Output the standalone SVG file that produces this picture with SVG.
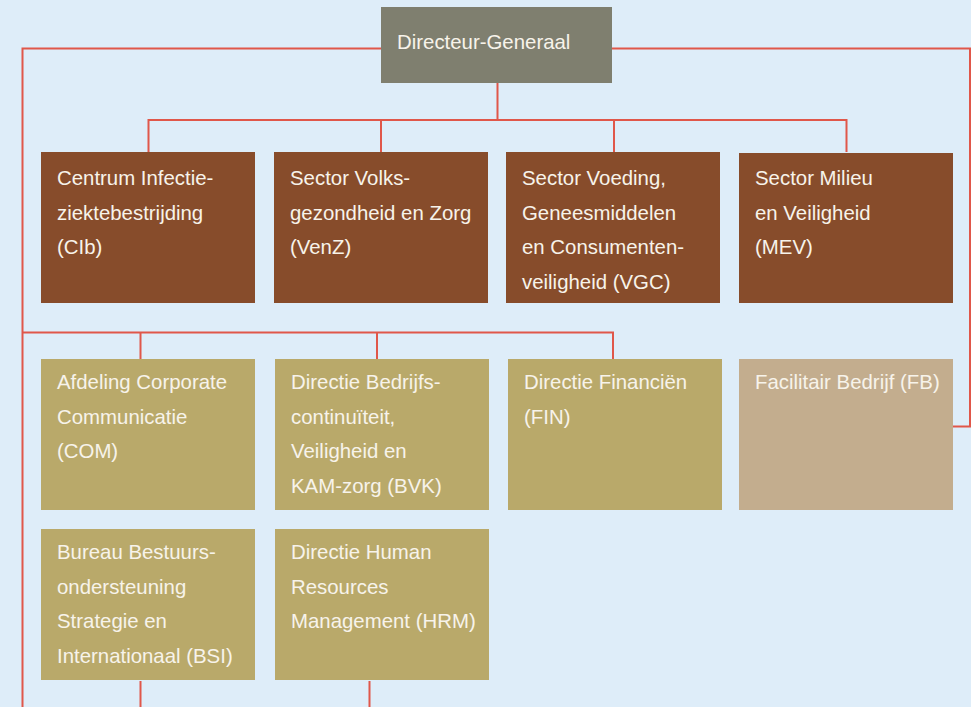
<svg xmlns="http://www.w3.org/2000/svg" width="971" height="707" viewBox="0 0 971 707">
<style>
.bg{fill:#deedf9}
.dg{fill:#7f7f6f}
.br{fill:#874c2b}
.ol{fill:#b9a96a}
.fb{fill:#c3ad8e}
text{font-family:"Liberation Sans",Arial,sans-serif;font-size:20.4px;fill:#f7f3ea}
.ln{fill:none;stroke:#e0574a;stroke-width:2}
</style>
<rect class="bg" x="0" y="0" width="971" height="707"/>
<g id="connectors">
<path class="ln" d="M381 48.5H22.5V707"/>
<path class="ln" d="M612 48.5H970V426.5H953"/>
<path class="ln" d="M497.5 83V120M148.5 152V120H846.5V152M381 120V152M614 120V152"/>
<path class="ln" d="M22.5 332.5H613V359M140.5 332.5V359M377 332.5V359"/>
<path class="ln" d="M140.5 681V707M369.5 681V707"/>
</g>
<g id="dg"><rect class="dg" x="381" y="7" width="231" height="76"/><text x="397" y="49">Directeur-Generaal</text></g>
<g id="cib"><rect class="br" x="41" y="152" width="214" height="151"/><text x="57" y="185">Centrum Infectie-</text><text x="57" y="219.5">ziektebestrijding</text><text x="57" y="254">(CIb)</text></g>
<g id="venz"><rect class="br" x="274" y="152" width="214" height="151"/><text x="290" y="185">Sector Volks-</text><text x="290" y="219.5">gezondheid en Zorg</text><text x="290" y="254">(VenZ)</text></g>
<g id="vgc"><rect class="br" x="506" y="152" width="214" height="151"/><text x="522" y="185">Sector Voeding,</text><text x="522" y="219.5">Geneesmiddelen</text><text x="522" y="254">en Consumenten-</text><text x="522" y="288.5">veiligheid (VGC)</text></g>
<g id="mev"><rect class="br" x="739" y="153" width="214" height="150"/><text x="755" y="185">Sector Milieu</text><text x="755" y="219.5">en Veiligheid</text><text x="755" y="254">(MEV)</text></g>
<g id="com"><rect class="ol" x="41" y="359" width="214" height="151"/><text x="57" y="389">Afdeling Corporate</text><text x="57" y="423.5">Communicatie</text><text x="57" y="458">(COM)</text></g>
<g id="bvk"><rect class="ol" x="275" y="359" width="214" height="151"/><text x="291" y="389">Directie Bedrijfs-</text><text x="291" y="423.5">continuïteit,</text><text x="291" y="458">Veiligheid en</text><text x="291" y="492.5">KAM-zorg (BVK)</text></g>
<g id="fin"><rect class="ol" x="508" y="359" width="214" height="151"/><text x="524" y="389">Directie Financiën</text><text x="524" y="423.5">(FIN)</text></g>
<g id="fbd"><rect class="fb" x="739" y="359" width="214" height="151"/><text x="755" y="389">Facilitair Bedrijf (FB)</text></g>
<g id="bsi"><rect class="ol" x="41" y="529" width="214" height="151"/><text x="57" y="559">Bureau Bestuurs-</text><text x="57" y="593.5">ondersteuning</text><text x="57" y="628">Strategie en</text><text x="57" y="662.5">Internationaal (BSI)</text></g>
<g id="hrm"><rect class="ol" x="275" y="529" width="214" height="151"/><text x="291" y="559">Directie Human</text><text x="291" y="593.5">Resources</text><text x="291" y="628">Management (HRM)</text></g>
</svg>
